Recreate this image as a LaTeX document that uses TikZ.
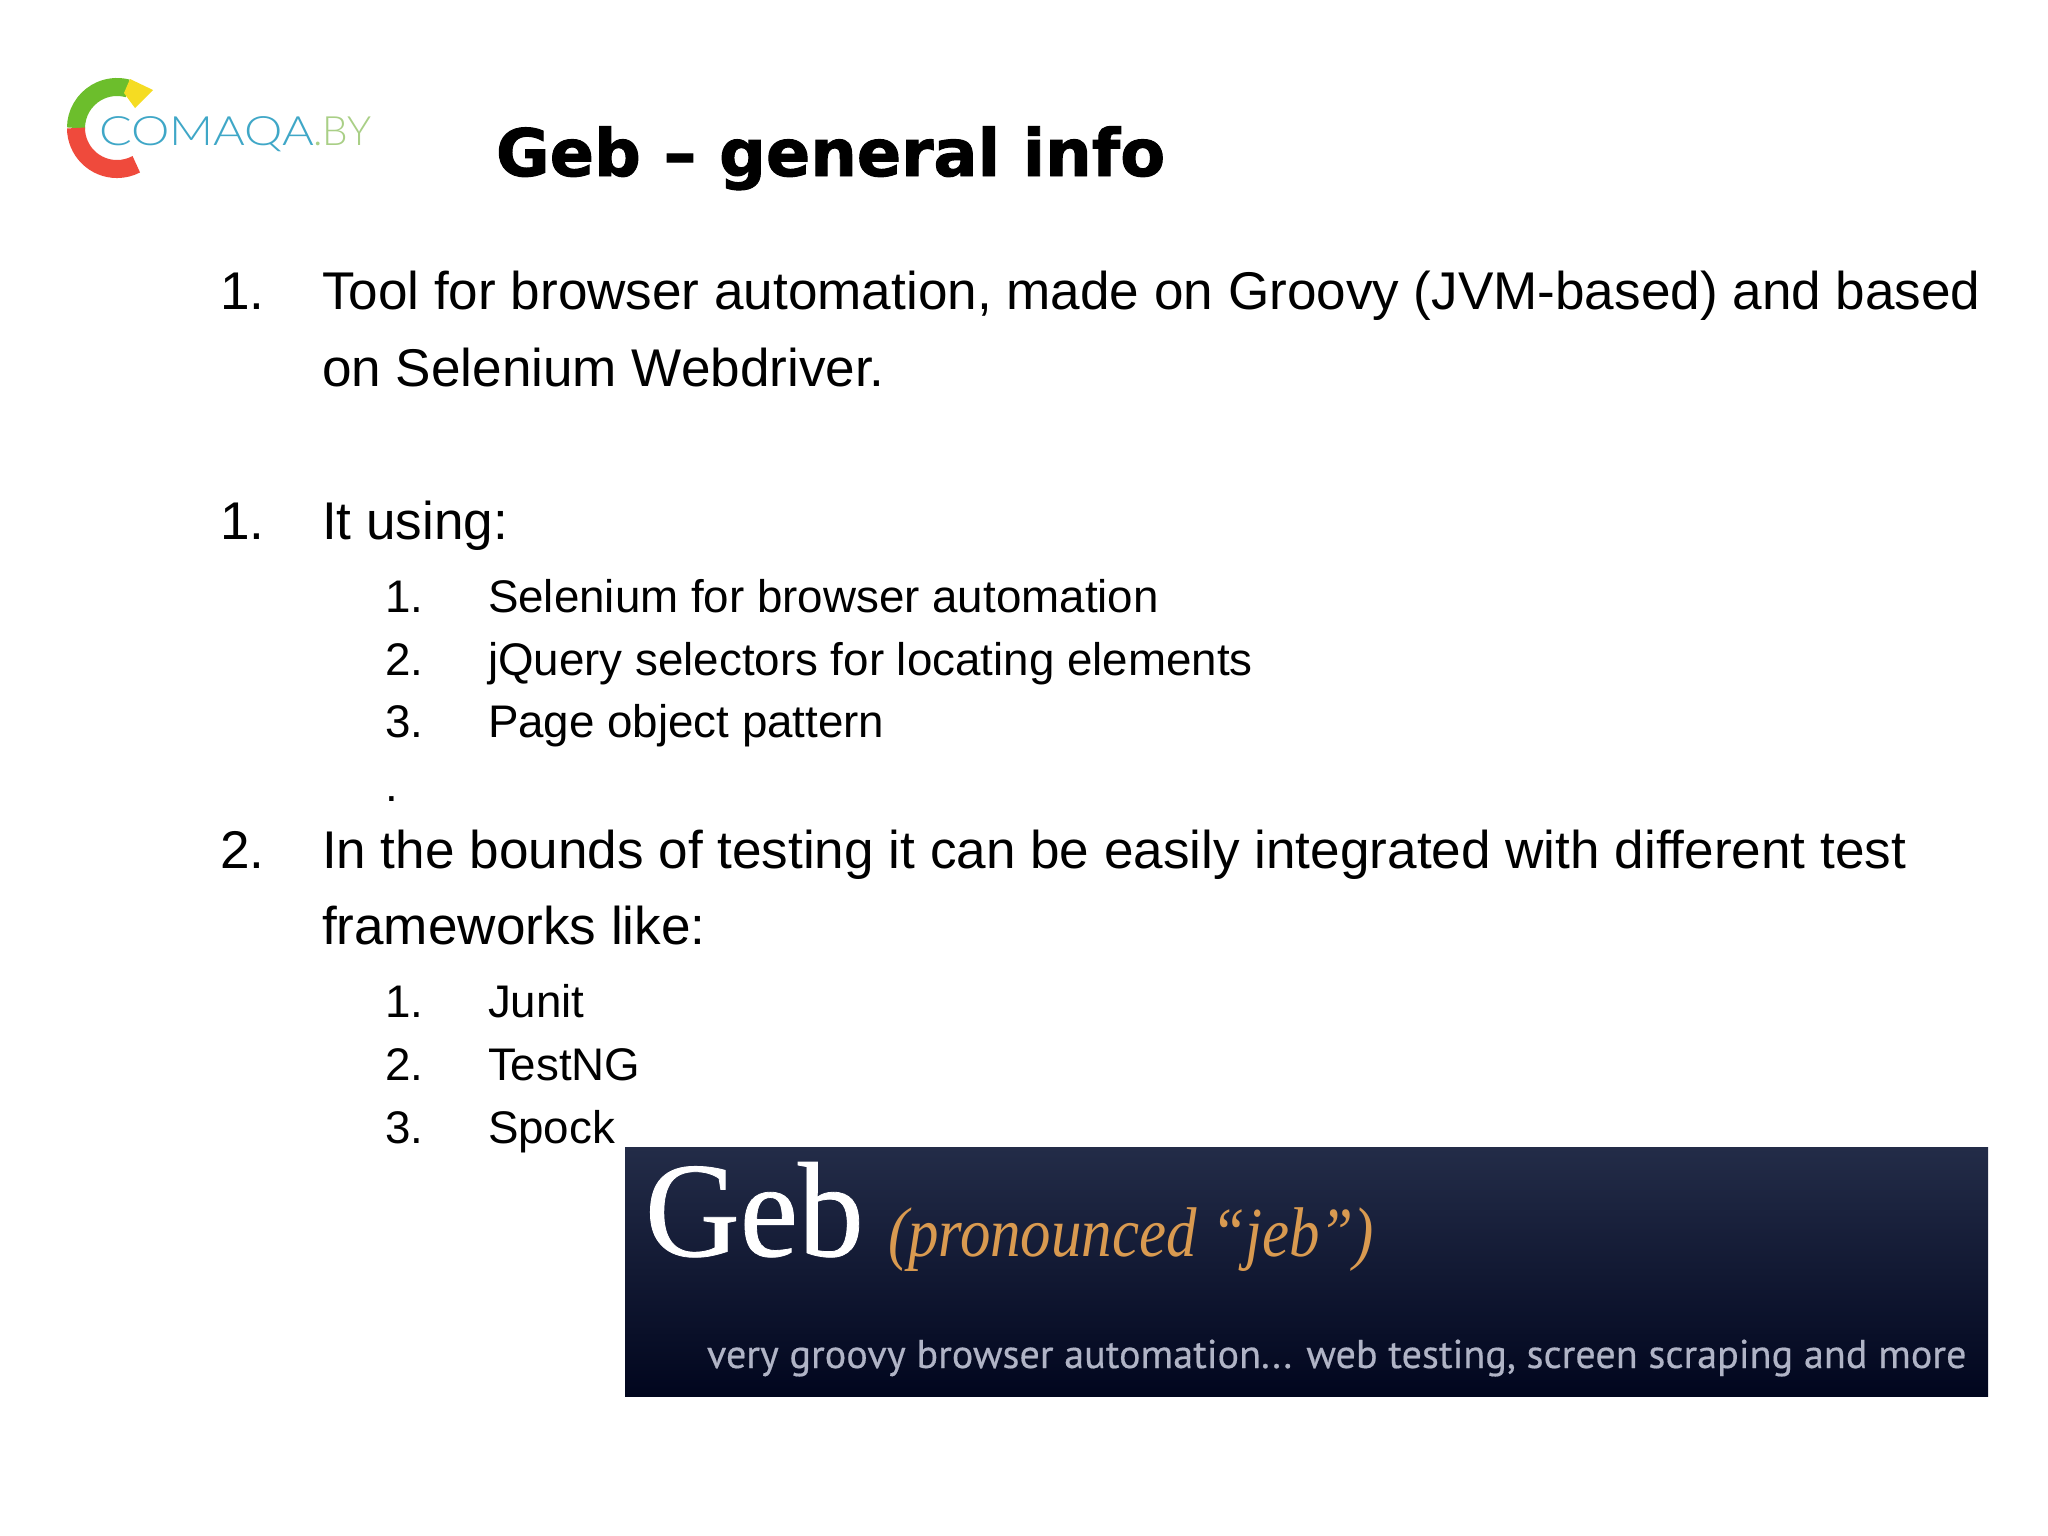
\documentclass[tikz,border=0pt]{standalone}
\usepackage{fontspec}
\setmainfont{Liberation Sans}
\newfontfamily\titlefont[FakeBold=1.5]{DejaVu Sans Bold}
\newfontfamily\gebfont[FakeStretch=0.97,FakeBold=0.6]{Liberation Serif}
\newfontfamily\pronfont[FakeStretch=0.865]{Liberation Serif Italic}
\newfontfamily\logofont{Lato Light}
\newfontfamily\logowide[FakeStretch=1.2]{Lato Light}
\newfontfamily\tagfont[FakeBold=0.4]{PT Sans}
\definecolor{logogreen}{HTML}{6CBE2C}
\definecolor{logored}{HTML}{EF4A3C}
\definecolor{logoyellow}{HTML}{F5DC22}
\definecolor{logoblue}{HTML}{3FA7C7}
\definecolor{logoby}{HTML}{A9CF86}
\definecolor{bannertop}{HTML}{232C48}
\definecolor{bannermid}{HTML}{080E28}
\definecolor{bannerbottom}{HTML}{01061E}
\definecolor{bannerorange}{HTML}{D99A50}
\definecolor{bannergray}{HTML}{B0B4C6}
\tikzset{
  txt/.style={anchor=base west,inner sep=0pt,outer sep=0pt},
  mainitem/.style={txt,font=\fontsize{15.1}{18}\selectfont},
  subitem/.style={txt,font=\fontsize{13}{15}\selectfont},
  logoarc/.style={line width=0.18cm}
}
\begin{document}
\begin{tikzpicture}[x=0.01cm,y=-0.01cm]
\useasboundingbox (0,0) rectangle (2048,1536);
\fill[white] (0,0) rectangle (2048,1536);

\draw[logoarc,logogreen] (76,128) arc[start angle=180,end angle=75,radius=0.41cm];
\draw[logoarc,logored] (76,128) arc[start angle=180,end angle=298,radius=0.41cm];
\fill[logoyellow] (130,79)--(153,90)--(135,108)--(124,93)--cycle;
\node[txt,text=logoblue,font=\logowide\fontsize{11.5}{14}\selectfont] (logoname) at (99,145) {COMAQA};
\node[txt,text=logoby,font=\logofont\fontsize{11.5}{14}\selectfont] (logoby) at (313,145) {.BY};

\node[txt,font=\titlefont\fontsize{18.6}{23}\selectfont] (title) at (496,176) {Geb – general info};

\node[mainitem] (toolnum) at (220,309) {1.};
\node[mainitem] (tool) at (322,309) {Tool for browser automation, made on Groovy (JVM-based) and based};
\node[mainitem] (toolb) at (322,386) {on Selenium Webdriver.};

\node[mainitem] (usingnum) at (220,539) {1.};
\node[mainitem] (using) at (322,539) {It using:};
\node[subitem] (senum) at (385,612) {1.};
\node[subitem] (se) at (488,612) {Selenium for browser automation};
\node[subitem] (jqnum) at (385,675) {2.};
\node[subitem] (jq) at (488,675) {jQuery selectors for locating elements};
\node[subitem] (ponum) at (385,737) {3.};
\node[subitem] (po) at (488,737) {Page object pattern};
\node[subitem] (dot) at (385,801) {.};

\node[mainitem] (boundsnum) at (220,868) {2.};
\node[mainitem] (bounds) at (322,868) {In the bounds of testing it can be easily integrated with different test};
\node[mainitem] (boundsb) at (322,944) {frameworks like:};
\node[subitem] (junum) at (385,1017) {1.};
\node[subitem] (ju) at (488,1017) {Junit};
\node[subitem] (tnnum) at (385,1080) {2.};
\node[subitem] (tn) at (488,1080) {TestNG};
\node[subitem] (spnum) at (385,1143) {3.};
\node[subitem] (sp) at (488,1143) {Spock};

\shade[top color=bannertop,middle color=bannermid,bottom color=bannerbottom] (625,1147) rectangle (1988,1396);
\node[txt,text=white,font=\gebfont\fontsize{38.5}{42}\selectfont] (geb) at (645,1256) {Geb};
\node[txt,text=bannerorange,font=\pronfont\fontsize{20}{24}\selectfont] (pron) at (888,1256) {(pronounced “jeb”)};
\node[txt,text=bannergray,font=\tagfont\fontsize{11.43}{14}\selectfont] (tag) at (707,1368) {very groovy browser automation... web testing, screen scraping and more};
\end{tikzpicture}
\end{document}
